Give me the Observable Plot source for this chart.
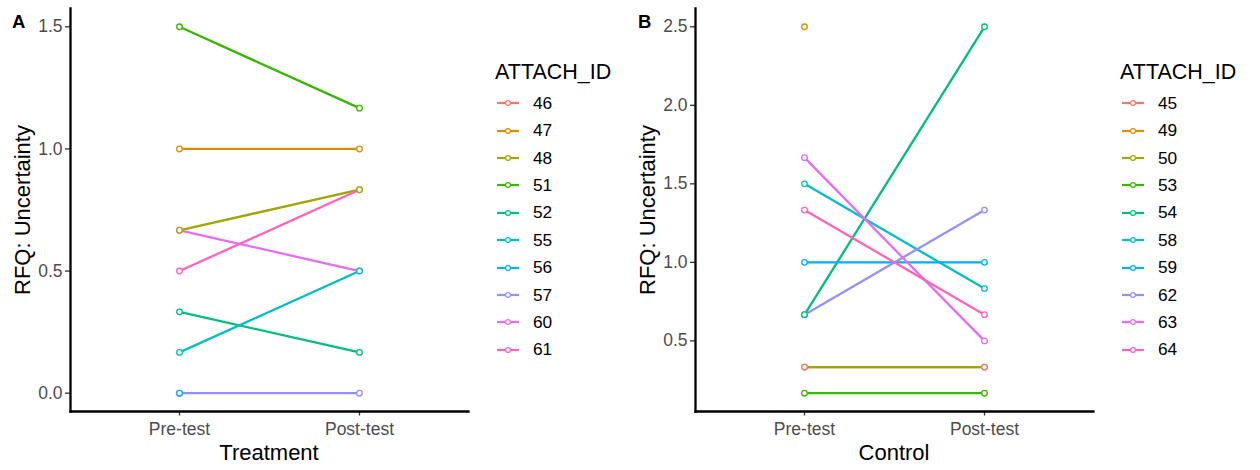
<!DOCTYPE html>
<html><head><meta charset="utf-8">
<script src="https://cdn.jsdelivr.net/npm/d3@7"></script>
<script src="https://cdn.jsdelivr.net/npm/@observablehq/plot@0.6"></script>
<style>
body{margin:0;background:#fff;font-family:"Liberation Sans",Arial,Helvetica,sans-serif;}
#root{position:relative;width:1260px;height:470px;overflow:hidden;background:#fff;}
.panel{position:absolute;top:0;}
.tag{position:absolute;font-weight:bold;font-size:18.5px;line-height:1;color:#000;}
.xtitle{position:absolute;font-size:22px;line-height:1;color:#000;transform:translate(-50%,-50%);white-space:nowrap;}
.ytitle{position:absolute;font-size:22px;line-height:1;color:#000;transform:translate(-50%,-50%) rotate(-90deg);white-space:nowrap;}
.ltitle{position:absolute;font-size:21.5px;line-height:1;color:#000;white-space:nowrap;}
.lentry{position:absolute;height:27.4px;display:flex;align-items:center;font-size:17.3px;color:#000;}
.lentry svg{display:block;margin-right:14px;}
</style></head><body><div id="root"></div>
<script>
const times = ["Pre-test", "Post-test"];
const palette = ["#F8766D","#D89000","#A3A500","#39B600","#00BF7D","#00BFC4","#00B0F6","#9590FF","#E76BF3","#FF62BC"];

// Panel A: Treatment
const treatIds  = [46, 47, 48, 51, 52, 55, 56, 57, 60, 61];
const treatPre  = [null, 1.0, 0.667, 1.5, 0.333, 0.167, 0, 0, 0.667, 0.5];
const treatPost = [null, 1.0, 0.833, 1.167, 0.167, 0.5, null, 0, 0.5, 0.833];
const treatTicks = [0, 0.5, 1.0, 1.5];

// Panel B: Control
const ctrlIds  = [45, 49, 50, 53, 54, 58, 59, 62, 63, 64];
const ctrlPre  = [0.333, 2.5, 0.333, 0.167, 0.667, 1.5, 1.0, 0.667, 1.667, 1.333];
const ctrlPost = [0.333, null, 0.333, 0.167, 2.5, 0.833, 1.0, 1.333, 0.5, 0.667];
const ctrlTicks = [0.5, 1.0, 1.5, 2.0, 2.5];

const root = document.getElementById("root");
const FONT = '"Liberation Sans", Arial, Helvetica, sans-serif';

function makePanel(ids, pre, post, ticks) {
  const rows = [];
  ids.forEach((id, i) => {
    if (pre[i] != null) rows.push({id: String(id), time: times[0], value: pre[i], order: i});
    if (post[i] != null) rows.push({id: String(id), time: times[1], value: post[i], order: i});
  });
  const pts = rows.slice().sort((a, b) => b.order - a.order);
  const vals = rows.map(d => d.value);
  const lo = d3.min(vals), hi = d3.max(vals), pad = (hi - lo) * 0.05;
  return Plot.plot({
    width: 470, height: 470,
    marginLeft: 70, marginRight: 2, marginTop: 8, marginBottom: 59,
    style: {fontFamily: FONT, background: "transparent", overflow: "visible"},
    x: {type: "point", domain: times, padding: 0.6},
    y: {domain: [lo - pad, hi + pad]},
    color: {type: "ordinal", domain: ids.map(String), range: palette},
    marks: [
      Plot.axisX({tickSize: 4.5, tickPadding: 7, fontSize: 17.5, fill: "#4D4D4D", stroke: "#333333", strokeWidth: 1.3, label: null}),
      Plot.axisY({ticks: ticks, tickFormat: d3.format(".1f"), tickSize: 5, tickPadding: 3, fontSize: 17.5, fill: "#4D4D4D", stroke: "#333333", strokeWidth: 1.3, label: null}),
      Plot.frame({anchor: "left", stroke: "#000", strokeWidth: 2.3}),
      Plot.frame({anchor: "bottom", stroke: "#000", strokeWidth: 2.3}),
      Plot.line(rows, {x: "time", y: "value", z: "id", stroke: "id", strokeWidth: 2.3}),
      Plot.dot(pts, {x: "time", y: "value", stroke: "id", fill: "white", r: 2.8, strokeWidth: 1.3})
    ]
  });
}

function addDiv(cls, text, styles) {
  const d = document.createElement("div");
  d.className = cls;
  d.textContent = text;
  Object.assign(d.style, styles);
  root.appendChild(d);
  return d;
}

function addLegend(ids, left) {
  addDiv("ltitle", "ATTACH_ID", {left: (left - 2) + "px", top: "62px"});
  ids.forEach((id, i) => {
    const e = document.createElement("div");
    e.className = "lentry";
    e.style.left = left + "px";
    e.style.top = (103.3 - 13.7 + i * 27.4) + "px";
    const col = palette[i];
    e.innerHTML = `<svg width="22" height="10"><line x1="0" x2="22" y1="5" y2="5" stroke="${col}" stroke-width="2.2"/><circle cx="11" cy="5" r="2.4" fill="white" stroke="${col}" stroke-width="1.2"/></svg><span>${id}</span>`;
    root.appendChild(e);
  });
}

const pA = makePanel(treatIds, treatPre, treatPost, treatTicks);
pA.classList.add("panel"); pA.style.left = "0px";
root.appendChild(pA);
const pB = makePanel(ctrlIds, ctrlPre, ctrlPost, ctrlTicks);
pB.classList.add("panel"); pB.style.left = "625px";
root.appendChild(pB);

addDiv("tag", "A", {left: "12px", top: "12.5px"});
addDiv("tag", "B", {left: "638px", top: "12.5px"});
addDiv("xtitle", "Treatment", {left: "269px", top: "453px"});
addDiv("xtitle", "Control", {left: "894px", top: "453px"});
addDiv("ytitle", "RFQ: Uncertainty", {left: "23px", top: "209.5px"});
addDiv("ytitle", "RFQ: Uncertainty", {left: "648px", top: "209.5px"});
addLegend(treatIds, 497);
addLegend(ctrlIds, 1122);
</script>
</body></html>
